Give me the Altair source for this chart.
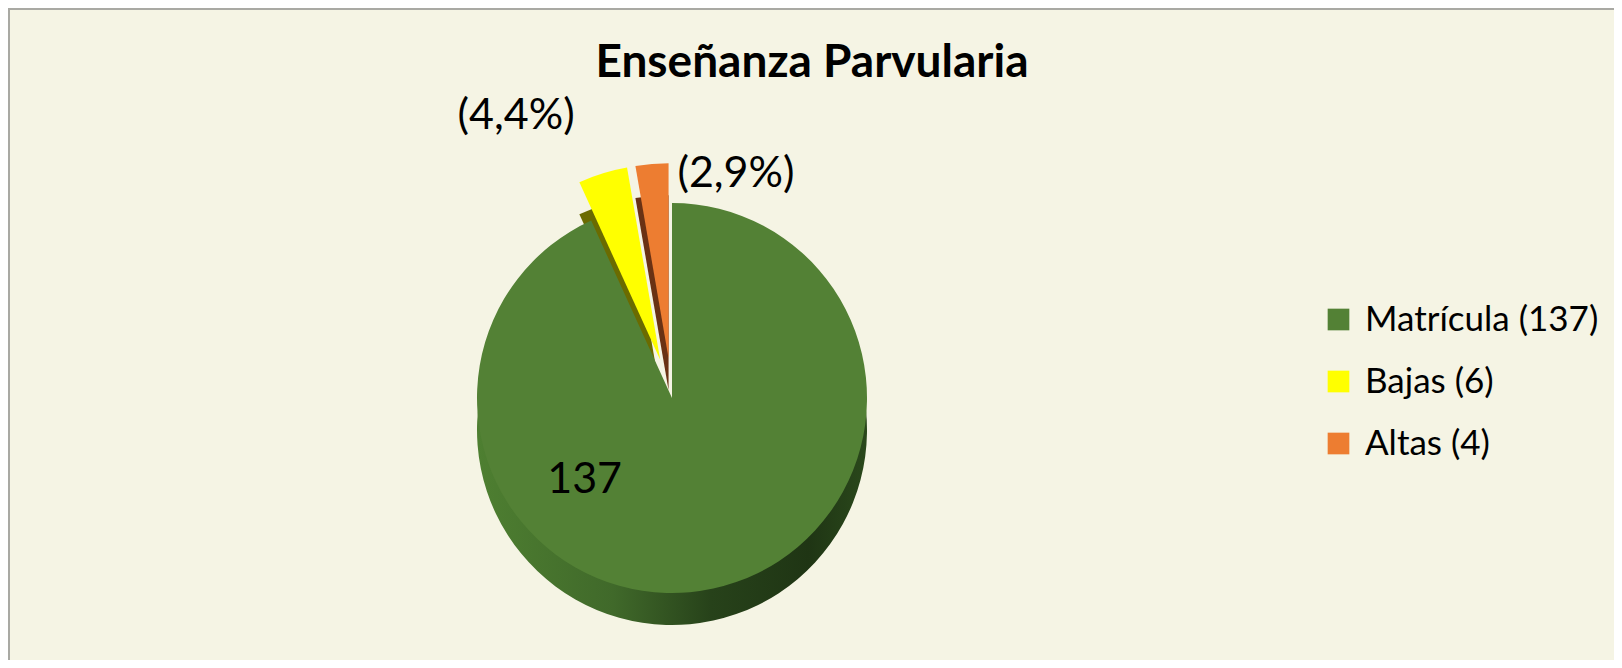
import altair as alt
import pandas as pd

# ---- data ----
categories = ["Matrícula", "Bajas", "Altas"]
values = [137, 6, 4]
slice_labels = ["137", "(4,4%)", "(2,9%)"]
legend_names = ["Matrícula (137)", "Bajas (6)", "Altas (4)"]

df = pd.DataFrame({
    "key": categories,
    "cat": legend_names,
    "value": values,
    "label": slice_labels,
    "idx": list(range(len(categories))),
})

# ---- styling / geometry ----
TOP_COLORS = ["#538135", "#FFFF00", "#ED7D31"]
SIDE_COLORS = ["#3F6526", "#6B6B00", "#6A3214"]
BG = "#F5F4E4"
CX, CY = 662, 388          # pie centre inside the view (px)
R = 195                    # pie radius
DEPTH = 32                 # fake 3-D thickness
EXPLODE = 40               # pull-out of the small slices
FONT = "Lato"

base = (
    alt.Chart(df)
    .transform_joinaggregate(total="sum(value)")
    .transform_window(cum="sum(value)", sort=[alt.SortField("idx", order="ascending")])
    .transform_calculate(
        t0="(datum.cum - datum.value) / datum.total * 2 * PI",
        t1="datum.cum / datum.total * 2 * PI",
    )
    .transform_calculate(
        mid="(datum.t0 + datum.t1) / 2",
        ex=f"datum.key == 'Matrícula' ? 0 : {EXPLODE}",
    )
    .transform_calculate(
        px=f"{CX} + datum.ex * sin(datum.mid)",
        py=f"{CY} - datum.ex * cos(datum.mid)",
        pys=f"{CY} - datum.ex * cos(datum.mid) + {DEPTH}",
        la="datum.key == 'Matrícula' ? 3.957 : (datum.key == 'Bajas' ? datum.t0 - 0.078 : datum.t1 + 0.278)",
        lr="datum.key == 'Matrícula' ? 120 : (datum.key == 'Bajas' ? 322 : 233)",
    )
    .transform_calculate(
        lx=f"{CX} + datum.lr * sin(datum.la)",
        ly=f"{CY} - datum.lr * cos(datum.la)",
    )
)

theta = alt.Theta("t0:Q", scale=None)
theta2 = alt.Theta2("t1:Q")

green_side_grad = alt.Gradient(
    gradient="linear",
    stops=[
        alt.GradientStop(offset=0.0, color="#4E7F31"),
        alt.GradientStop(offset=0.35, color="#40692A"),
        alt.GradientStop(offset=0.6, color="#27421A"),
        alt.GradientStop(offset=0.85, color="#1F3514"),
        alt.GradientStop(offset=1.0, color="#2A481B"),
    ],
    x1=0, x2=1, y1=0, y2=0,
)

side_green = base.transform_filter("datum.key == 'Matrícula'").mark_arc(
    radius=R, color=green_side_grad
).encode(
    theta=theta, theta2=theta2,
    x=alt.X("px:Q", scale=None, axis=None),
    y=alt.Y("pys:Q", scale=None, axis=None),
)

side_small = base.transform_filter("datum.key != 'Matrícula'").mark_arc(radius=R).encode(
    theta=theta, theta2=theta2,
    x=alt.X("px:Q", scale=None, axis=None),
    y=alt.Y("pys:Q", scale=None, axis=None),
    color=alt.Color("key:N", scale=alt.Scale(domain=categories, range=SIDE_COLORS), legend=None),
)

top = base.mark_arc(radius=R).encode(
    theta=theta, theta2=theta2,
    x=alt.X("px:Q", scale=None, axis=None),
    y=alt.Y("py:Q", scale=None, axis=None),
    color=alt.Color(
        "cat:N",
        scale=alt.Scale(domain=legend_names, range=TOP_COLORS),
        sort=legend_names,
        legend=alt.Legend(
            title=None,
            orient="none",
            legendX=1311,
            legendY=292,
            symbolType="square",
            symbolSize=470,
            symbolStrokeWidth=0,
            labelFont=FONT,
            labelFontSize=35,
            labelColor="#000000",
            labelOffset=9,
            rowPadding=26,
            padding=0,
            labelLimit=400,
        ),
    ),
)

labels = base.mark_text(font=FONT, fontSize=43, color="#000000", align="center", baseline="middle").encode(
    x=alt.X("lx:Q", scale=None, axis=None),
    y=alt.Y("ly:Q", scale=None, axis=None),
    text="label:N",
)

chart = (
    alt.layer(side_green, side_small, top, labels)
    .resolve_scale(color="independent")
    .properties(
        width=1604,
        height=650,
        padding={"left": 2, "top": 2, "right": 0, "bottom": 0},
        autosize=alt.AutoSizeParams(type="none"),
        background="#A9A9A3",
        title=alt.TitleParams(
            text="Enseñanza Parvularia",
            font=FONT,
            fontSize=46,
            fontWeight="bold",
            color="#000000",
            anchor="middle",
            frame="group",
            baseline="alphabetic",
            offset=-73,
            dy=40,
        ),
    )
    .configure_view(fill=BG, stroke=None)
)

chart.save("out.html", embed_options={"renderer": "svg", "actions": False})
